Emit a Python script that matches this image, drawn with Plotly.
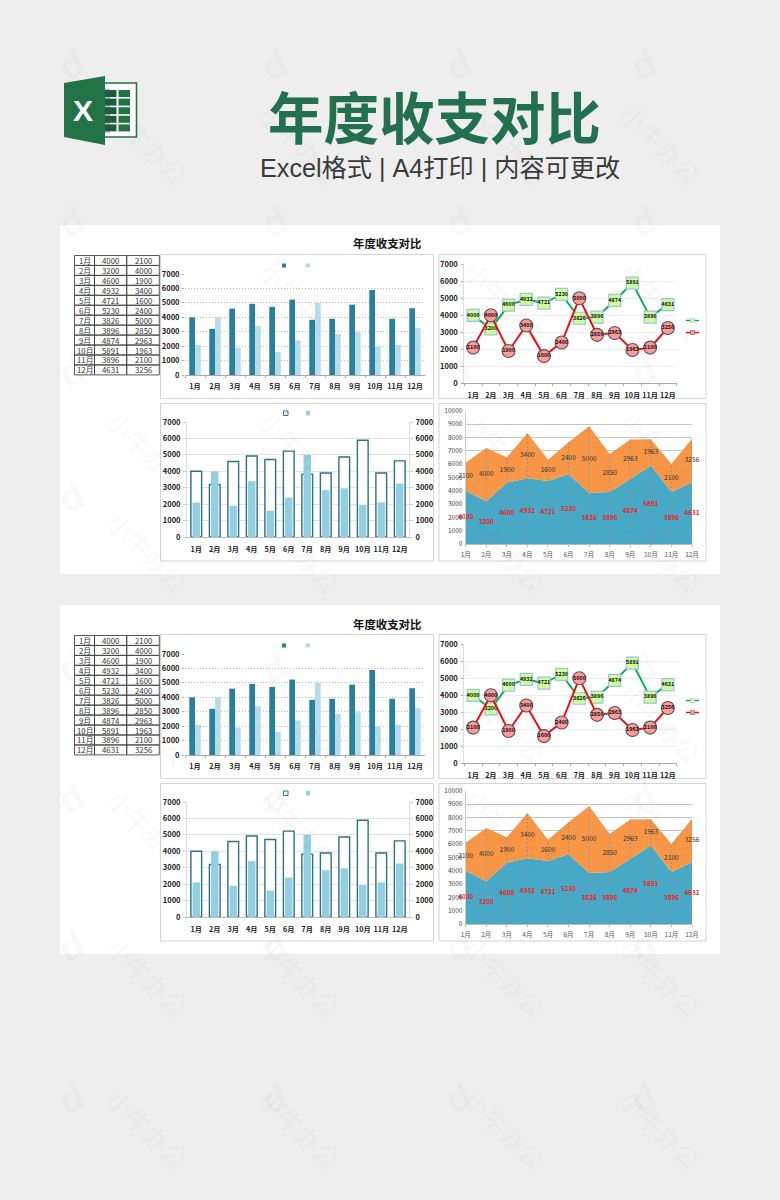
import plotly.graph_objects as go

W, H = 780, 1200
FONT = "Noto Sans CJK SC"

months = ["1月", "2月", "3月", "4月", "5月", "6月", "7月", "8月", "9月", "10月", "11月", "12月"]
income = [4000, 3200, 4600, 4932, 4721, 5230, 3826, 3896, 4874, 5891, 3896, 4631]
expense = [2100, 4000, 1900, 3400, 1600, 2400, 5000, 2850, 2963, 1963, 2100, 3256]
ticks_7k = [0, 1000, 2000, 3000, 4000, 5000, 6000, 7000]
ticks_10k = [0, 1000, 2000, 3000, 4000, 5000, 6000, 7000, 8000, 9000, 10000]

DARK = "#2b7f9e"
LIGHT = "#b4dde9"
MID = "#92cfe0"
BLUE = "#47a9c6"
ORANGE = "#f79646"


def fx(px):
    return px / W


def fy(py):
    return 1 - py / H


fig = go.Figure()
shapes, annots = [], []
layout = {}
axn = [0]


def new_axes(x0, x1, y_top, y_bot):
    axn[0] += 1
    n = axn[0]
    xa, ya = f"xaxis{n}", f"yaxis{n}"
    layout[xa] = dict(domain=[fx(x0), fx(x1)], anchor=f"y{n}", type="category", tickangle=0,
                      categoryorder="array", categoryarray=months, automargin=False)
    layout[ya] = dict(domain=[fy(y_bot), fy(y_top)], anchor=f"x{n}", tickformat="d", automargin=False)
    return n


def rect(x0, y0, x1, y1, fill=None, line=None, lw=1, layer="below"):
    shapes.append(dict(type="rect", xref="paper", yref="paper", x0=fx(x0), x1=fx(x1),
                       y0=fy(y1), y1=fy(y0), fillcolor=fill or "rgba(0,0,0,0)",
                       line=dict(color=line or "rgba(0,0,0,0)", width=lw if line else 0), layer=layer))


def path(points, fill):
    d = "M" + " L".join(f"{fx(a):.5f},{fy(b):.5f}" for a, b in points) + " Z"
    shapes.append(dict(type="path", xref="paper", yref="paper", path=d, fillcolor=fill,
                       line=dict(width=0), layer="above"))


def text(x, y, s, size, color="#222", weight="normal", anchor="center", angle=0, family=FONT):
    annots.append(dict(xref="paper", yref="paper", x=fx(x), y=fy(y), text=s, showarrow=False,
                       xanchor=anchor, yanchor="middle", textangle=angle,
                       font=dict(size=size, color=color, family=family, weight=weight)))


TICKB = dict(size=7.2, color="#222", family=FONT, weight="bold")


def group(dy):
    # white card and title
    rect(60, 225 + dy, 720, 574 + dy, fill="white")
    text(387, 243.5 + dy, "年度收支对比", 11.4, "#111", "bold")

    # data table
    cols = [74.5, 94.5, 126.7, 159.3]
    top, rh = 255.5 + dy, 9.95
    for i, m in enumerate(months):
        yc = top + rh * (i + 0.5)
        for c in range(3):
            rect(cols[c], top + rh * i, cols[c + 1], top + rh * (i + 1), line="#444", lw=0.9)
        text((cols[0] + cols[1]) / 2, yc, m, 7.8, "#333")
        text((cols[1] + cols[2]) / 2, yc, str(income[i]), 7.8, "#333")
        text((cols[2] + cols[3]) / 2, yc, str(expense[i]), 7.8, "#333")

    # panel frames
    rect(160.5, 254.5 + dy, 433.5, 398.5 + dy, fill="white", line="#d4d4d4", lw=1)
    rect(439, 254.5 + dy, 706, 398.5 + dy, fill="white", line="#d4d4d4", lw=1)
    rect(160.5, 403.5 + dy, 433.5, 561 + dy, fill="white", line="#d4d4d4", lw=1)
    rect(439, 403.5 + dy, 706, 561 + dy, fill="white", line="#d4d4d4", lw=1)

    # Panel A: grouped bars
    n = new_axes(185, 425, 274 + dy, 375 + dy)
    xr, yr = f"x{n}", f"y{n}"
    fig.add_trace(go.Bar(x=months, y=income, name="收入", marker=dict(color=DARK, line_width=0), xaxis=xr, yaxis=yr, width=0.285, offset=-0.285))
    fig.add_trace(go.Bar(x=months, y=expense, name="支出", marker=dict(color=LIGHT, line_width=0), xaxis=xr, yaxis=yr, width=0.285, offset=0))
    layout[f"xaxis{n}"].update(range=[-0.5, 11.5], tickson="boundaries", ticks="outside", ticklen=2, tickcolor="#aaa",
                               showline=True, linecolor="#aaa", linewidth=1, tickfont=TICKB, showgrid=False, ticklabelstandoff=4)
    layout[f"yaxis{n}"].update(range=[0, 7000], tickvals=ticks_7k, showgrid=True, gridcolor="#bdbdbd", griddash="1px,2px", gridwidth=1,
                               tickfont=dict(TICKB, size=7.5), zeroline=False, ticks="outside", ticklen=2, tickcolor="#aaa", ticklabelstandoff=1)
    rect(282, 263.5 + dy, 286, 267.5 + dy, fill=DARK)
    rect(305.5, 263.5 + dy, 310, 267.5 + dy, fill=LIGHT)

    # Panel B: lines with labelled markers
    n = new_axes(464.3, 676.7, 264.3 + dy, 383.3 + dy)
    xr, yr = f"x{n}", f"y{n}"
    fig.add_trace(go.Scatter(x=months, y=income, name="收入", mode="lines+markers+text", text=[str(v) for v in income],
                             textposition="middle center", textfont=dict(size=5.4, color="#111", family=FONT, weight="bold"),
                             line=dict(color="#00b050", width=1.9),
                             marker=dict(symbol="square", size=12, color="#ccff99", line=dict(color="#9cc3e0", width=1.2)),
                             xaxis=xr, yaxis=yr, cliponaxis=False))
    fig.add_trace(go.Scatter(x=months, y=expense, name="支出", mode="lines+markers+text", text=[str(v) for v in expense],
                             textposition="middle center", textfont=dict(size=5.4, color="#111", family=FONT, weight="bold"),
                             line=dict(color="#ff0000", width=1.9),
                             marker=dict(symbol="circle", size=13, color="#ff9a9a", line=dict(color="#555", width=1.1)),
                             xaxis=xr, yaxis=yr, cliponaxis=False))
    layout[f"xaxis{n}"].update(range=[-0.5, 11.5], tickson="boundaries", ticks="outside", ticklen=2, tickcolor="#aaa",
                               showline=True, linecolor="#aaa", linewidth=1, tickfont=TICKB, showgrid=False, ticklabelstandoff=5)
    layout[f"yaxis{n}"].update(range=[0, 7000], tickvals=ticks_7k, showgrid=True, gridcolor="#eeeeee", gridwidth=1,
                               tickfont=dict(TICKB, size=7.5), zeroline=False, ticks="outside", ticklen=2, tickcolor="#aaa", ticklabelstandoff=2,
                               showline=True, linecolor="#ddd")
    for yy, col, sym_fill, oc in [(320.5, "#00b050", "#ccff99", "#9cc3e0"), (332.5, "#ff0000", "#ff9a9a", "#666")]:
        shapes.append(dict(type="line", xref="paper", yref="paper", x0=fx(686), x1=fx(699), y0=fy(yy + dy), y1=fy(yy + dy),
                           line=dict(color=col, width=1.4), layer="above"))
        rect(690.5, yy - 2 + dy, 694.5, yy + 2 + dy, fill=sym_fill, line=oc, lw=0.6, layer="above")

    # Panel C: outline bars with inner bars on a secondary axis
    n = new_axes(187, 409, 422 + dy, 537 + dy)
    xr, yr = f"x{n}", f"y{n}"
    fig.add_trace(go.Bar(x=months, y=income, name="收入", marker=dict(color="white", line=dict(color="#2f6f88", width=1.4)), width=0.58, xaxis=xr, yaxis=yr))
    layout[f"xaxis{n}"].update(range=[-0.5, 11.5], showline=True, linecolor="#bbb", linewidth=1, tickfont=TICKB, showgrid=False,
                               ticks="", ticklabelstandoff=5)
    layout[f"yaxis{n}"].update(range=[0, 7000], tickvals=ticks_7k, showgrid=True, gridcolor="#e2e2e2", gridwidth=1,
                               tickfont=dict(TICKB, size=7.5), zeroline=False, ticks="outside", ticklen=3, tickcolor="#ccc", ticklabelstandoff=1,
                               showline=True, linecolor="#ddd")
    axn[0] += 1
    m = axn[0]
    layout[f"yaxis{m}"] = dict(domain=[fy(537 + dy), fy(422 + dy)], overlaying=f"y{n}", anchor=f"x{n}", side="right", range=[0, 7000], tickvals=ticks_7k,
                               showgrid=False, tickfont=dict(TICKB, size=7.5), zeroline=False, ticks="outside", ticklen=3, tickcolor="#ccc",
                               showline=True, linecolor="#ddd", ticklabelstandoff=1, tickformat="d", automargin=False)
    fig.add_trace(go.Bar(x=months, y=expense, name="支出", marker=dict(color=MID, line_width=0), width=0.4, xaxis=xr, yaxis=f"y{m}"))
    rect(283.5, 411 + dy, 288, 415.5 + dy, fill="white", line="#2f6f88", lw=1, layer="above")
    rect(306, 411 + dy, 310, 415.5 + dy, fill=MID, layer="above")

    # Panel D: stacked area with labels
    n = new_axes(465.7, 692, 410.7 + dy, 544 + dy)
    xr, yr = f"x{n}", f"y{n}"
    fig.add_trace(go.Scatter(x=months, y=income, name="收入", stackgroup=f"s{n}", mode="none", fillcolor=BLUE, xaxis=xr, yaxis=yr))
    fig.add_trace(go.Scatter(x=months, y=expense, name="支出", stackgroup=f"s{n}", mode="none", fillcolor=ORANGE, xaxis=xr, yaxis=yr))
    totals = [a + b for a, b in zip(income, expense)]
    dx, dyy = [], []
    for mth, t in zip(months, totals):
        dx += [mth, mth, None]
        dyy += [0, t, None]
    fig.add_trace(go.Scatter(x=dx, y=dyy, mode="lines", line=dict(color="#8f8f8f", width=0.8, dash="2px,2px"), xaxis=xr, yaxis=yr, hoverinfo="skip"))
    fig.add_trace(go.Scatter(x=months, y=[v / 2 for v in income], mode="text", text=[str(v) for v in income],
                             textfont=dict(size=6.4, color="#ee1c25", family=FONT, weight="bold"), xaxis=xr, yaxis=yr, cliponaxis=False))
    fig.add_trace(go.Scatter(x=months, y=[a + b / 2 for a, b in zip(income, expense)], mode="text", text=[str(v) for v in expense],
                             textfont=dict(size=6.6, color="#333", family=FONT), xaxis=xr, yaxis=yr, cliponaxis=False))
    layout[f"xaxis{n}"].update(range=[0, 11], showline=True, linecolor="#bbb", linewidth=1, showgrid=False, ticks="outside", ticklen=2, tickcolor="#bbb",
                               tickfont=dict(size=6.5, color="#555", family=FONT), ticklabelstandoff=2)
    layout[f"yaxis{n}"].update(range=[0, 10000], tickvals=ticks_10k, showgrid=True, gridcolor="#c4c4c4", gridwidth=1,
                               tickfont=dict(size=6.5, color="#444", family=FONT), zeroline=False, ticks="", ticklabelstandoff=1,
                               showline=True, linecolor="#ccc")


group(0)
group(380)

# header
text(434.5, 115, "年度收支对比", 55.5, "#23704f", "bold")
text(440, 168, "Excel格式 | A4打印 | 内容可更改", 25.2, "#3a3a3a", "normal", family="Liberation Sans, " + FONT)

# Excel icon
rect(104, 83, 136.5, 137, fill="white", line="#217346", lw=1.6, layer="above")
rect(105, 89, 110, 133, fill="#bdbdbd", layer="above")
for r in range(5):
    ry = 90 + r * 8.6
    rect(105, ry, 116.5, ry + 7, fill="#1d5c3c", layer="above")
    rect(118.5, ry, 130, ry + 7, fill="#217346", layer="above")
path([(64, 83), (105, 76), (105, 145), (64, 137)], "#217346")
text(83, 110, "X", 30, "white", "bold", family="Liberation Sans")

# watermark
WM_COLUMNS = [50, 253, 458, 665]
WM_ROWS = [38, 195, 345, 497, 668, 825, 973, 1125]
for wx in WM_COLUMNS:
    for wy in WM_ROWS:
        annots.append(dict(xref="paper", yref="paper", x=fx(wx), y=fy(wy), text="d", showarrow=False, textangle=-25,
                           font=dict(size=38, color="rgba(90,90,90,0.04)", family="Liberation Sans", weight="bold")))
        annots.append(dict(xref="paper", yref="paper", x=fx(wx + 47), y=fy(wy + 55), text="小牛办公", showarrow=False, textangle=45,
                           font=dict(size=25, color="rgba(90,90,90,0.04)", family=FONT, weight="bold")))

fig.update_layout(width=W, height=H, autosize=False, margin=dict(l=0, r=0, t=0, b=0),
                  paper_bgcolor="#eeeeee", plot_bgcolor="rgba(0,0,0,0)", showlegend=False, barmode="overlay",
                  shapes=shapes, annotations=annots, font=dict(family=FONT), **layout)
fig.write_html("out.html", config={"displayModeBar": False, "responsive": False},
               post_script="document.body.style.margin='0';document.body.style.background='#eeeeee';")
